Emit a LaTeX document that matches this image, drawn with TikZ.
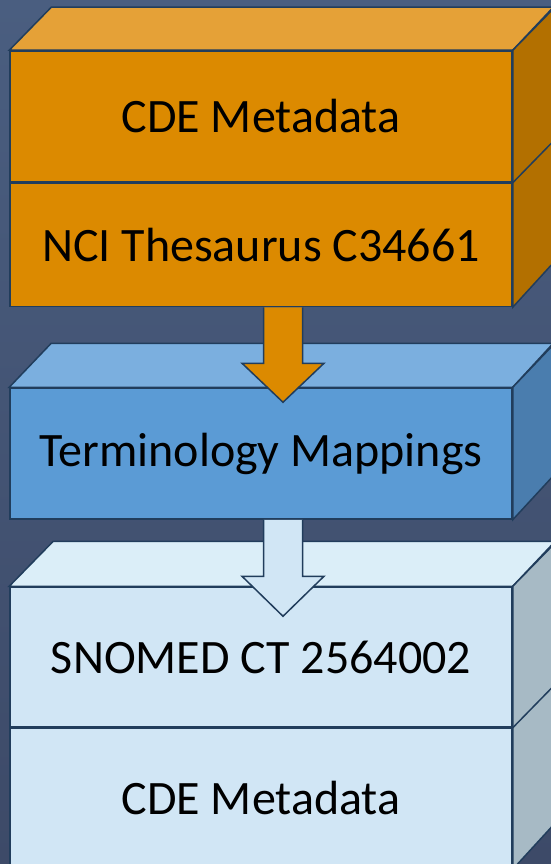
\documentclass[tikz,border=0pt]{standalone}
\usepackage{fontspec}
\setmainfont{Carlito}
\usepackage{tikz}
\usetikzlibrary{calc,positioning}

\definecolor{bgtop}{HTML}{4A5E80}
\definecolor{bgbottom}{HTML}{3D4A68}
\definecolor{edgeblue}{HTML}{213D5C}
\definecolor{orangefront}{HTML}{DC8A00}
\definecolor{orangetop}{HTML}{E5A137}
\definecolor{orangeside}{HTML}{B37000}
\definecolor{bluefront}{HTML}{5B9BD5}
\definecolor{bluetop}{HTML}{7BAFDF}
\definecolor{blueside}{HTML}{4A7DAE}
\definecolor{palefront}{HTML}{D1E6F5}
\definecolor{paletop}{HTML}{DBEEF8}
\definecolor{paleside}{HTML}{A7BAC5}

\tikzset{
  facebox/.style={draw=edgeblue,line width=1.5pt,line join=miter},
  cell/.style={facebox,rectangle,inner sep=0pt,minimum width=502pt,
    font=\fontsize{48}{57}\selectfont,text=black},
  blockarrow/.style={facebox}
}

\begin{document}
\begin{tikzpicture}[x=1pt,y=1pt]
\useasboundingbox (0,0) rectangle (551,-864);
\clip (0,0) rectangle (551,-864);
\shade[top color=bgtop,bottom color=bgbottom] (0,0) rectangle (551,-864);

% lower box: SNOMED CT / CDE Metadata
\node[cell,fill=palefront,minimum height=140pt] (snomed) at (261,-657) {SNOMED CT 2564002};
\node[cell,fill=palefront,minimum height=140pt,below=0pt of snomed] (cdelow) {CDE Metadata};
\draw[facebox,fill=paletop] (snomed.north west) -- ++(44,45) -- ++(502,0) -- (snomed.north east) -- cycle;
\draw[facebox,fill=paleside] (snomed.north east) -- ++(44,45) -- ++(0,-280) -- (cdelow.south east) -- cycle;
\draw[facebox] (snomed.south east) -- ++(44,45);

% middle box: Terminology Mappings
\node[cell,fill=bluefront,minimum height=131pt] (mapping) at (261,-453.5) {Terminology Mappings};
\draw[facebox,fill=bluetop] (mapping.north west) -- ++(42,44) -- ++(502,0) -- (mapping.north east) -- cycle;
\draw[facebox,fill=blueside] (mapping.north east) -- ++(42,44) -- ++(0,-131) -- (mapping.south east) -- cycle;

% upper box: CDE Metadata / NCI Thesaurus
\node[cell,fill=orangefront,minimum height=131pt] (cdeup) at (261,-116.5) {CDE Metadata};
\node[cell,fill=orangefront,minimum height=123pt,below=0pt of cdeup] (nci) {NCI Thesaurus C34661};
\draw[facebox,fill=orangetop] (cdeup.north west) -- ++(42,43) -- ++(502,0) -- (cdeup.north east) -- cycle;
\draw[facebox,fill=orangeside] (cdeup.north east) -- ++(42,43) -- ++(0,-254) -- (nci.south east) -- cycle;
\draw[facebox] (cdeup.south east) -- ++(42,43);

% block arrows
\coordinate (tipone) at ($(mapping.north)+(22,-15)$);
\coordinate (tiptwo) at ($(snomed.north)+(22,-30)$);
\draw[blockarrow,fill=orangefront] let \p1=($(nci.south)+(22,0)$), \p2=(tipone) in
  (\x1-19.5,\y1) -- (\x1-19.5,\y2+39) -- (\x1-41,\y2+39) -- (\x2,\y2)
  -- (\x1+41,\y2+39) -- (\x1+19.5,\y2+39) -- (\x1+19.5,\y1);
\draw[blockarrow,fill=palefront] let \p1=($(mapping.south)+(22,0)$), \p2=(tiptwo) in
  (\x1-19.5,\y1) -- (\x1-19.5,\y2+40) -- (\x1-41,\y2+40) -- (\x2,\y2)
  -- (\x1+41,\y2+40) -- (\x1+19.5,\y2+40) -- (\x1+19.5,\y1);
\end{tikzpicture}
\end{document}
